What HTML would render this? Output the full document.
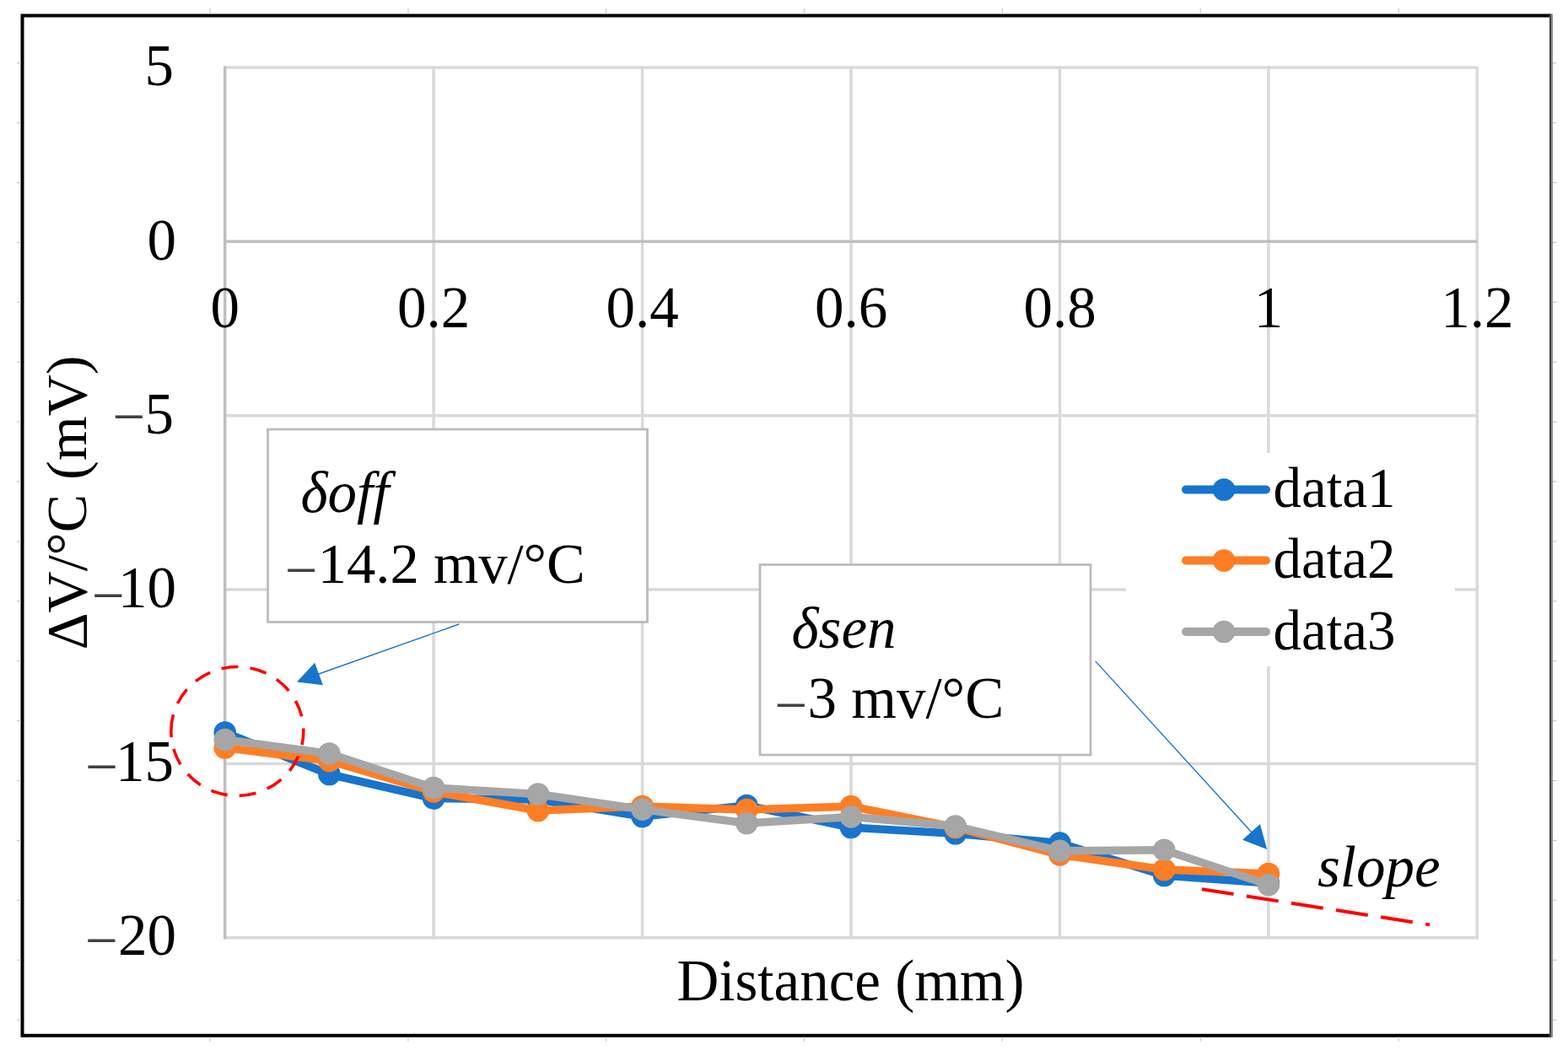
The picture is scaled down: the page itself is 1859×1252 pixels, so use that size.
<!DOCTYPE html>
<html><head><meta charset="utf-8">
<style>
html,body{margin:0;padding:0;background:#fff;}
body{width:1859px;height:1252px;overflow:hidden;position:relative;}
svg{position:absolute;left:0;top:0;display:block;}
text{font-family:"Liberation Serif","Times New Roman",serif;font-size:69px;fill:#000;}
.it{font-style:italic;}
</style></head><body>
<svg width="1859" height="1252" viewBox="0 0 1859 1252">
<rect x="0" y="0" width="1859" height="1252" fill="#fff"/>
<path d="M1839,18.6 H26.5 V1227.7 H1839" fill="none" stroke="#000" stroke-width="4"/>
<line x1="1838" y1="16.6" x2="1838" y2="1229.7" stroke="#444" stroke-width="2"/>
<line x1="1840" y1="16.6" x2="1840" y2="1229.7" stroke="#8a8a8a" stroke-width="2"/>
<line x1="20" y1="74.7" x2="24.5" y2="74.7" stroke="#c8c8c8" stroke-width="1.2"/><line x1="1841" y1="74.7" x2="1845.5" y2="74.7" stroke="#c8c8c8" stroke-width="1.2"/>
<line x1="20" y1="145.6" x2="24.5" y2="145.6" stroke="#c8c8c8" stroke-width="1.2"/><line x1="1841" y1="145.6" x2="1845.5" y2="145.6" stroke="#c8c8c8" stroke-width="1.2"/>
<line x1="20" y1="216.5" x2="24.5" y2="216.5" stroke="#c8c8c8" stroke-width="1.2"/><line x1="1841" y1="216.5" x2="1845.5" y2="216.5" stroke="#c8c8c8" stroke-width="1.2"/>
<line x1="20" y1="287.4" x2="24.5" y2="287.4" stroke="#c8c8c8" stroke-width="1.2"/><line x1="1841" y1="287.4" x2="1845.5" y2="287.4" stroke="#c8c8c8" stroke-width="1.2"/>
<line x1="20" y1="358.3" x2="24.5" y2="358.3" stroke="#c8c8c8" stroke-width="1.2"/><line x1="1841" y1="358.3" x2="1845.5" y2="358.3" stroke="#c8c8c8" stroke-width="1.2"/>
<line x1="20" y1="429.2" x2="24.5" y2="429.2" stroke="#c8c8c8" stroke-width="1.2"/><line x1="1841" y1="429.2" x2="1845.5" y2="429.2" stroke="#c8c8c8" stroke-width="1.2"/>
<line x1="20" y1="500.1" x2="24.5" y2="500.1" stroke="#c8c8c8" stroke-width="1.2"/><line x1="1841" y1="500.1" x2="1845.5" y2="500.1" stroke="#c8c8c8" stroke-width="1.2"/>
<line x1="20" y1="571.0" x2="24.5" y2="571.0" stroke="#c8c8c8" stroke-width="1.2"/><line x1="1841" y1="571.0" x2="1845.5" y2="571.0" stroke="#c8c8c8" stroke-width="1.2"/>
<line x1="20" y1="641.9" x2="24.5" y2="641.9" stroke="#c8c8c8" stroke-width="1.2"/><line x1="1841" y1="641.9" x2="1845.5" y2="641.9" stroke="#c8c8c8" stroke-width="1.2"/>
<line x1="20" y1="712.8" x2="24.5" y2="712.8" stroke="#c8c8c8" stroke-width="1.2"/><line x1="1841" y1="712.8" x2="1845.5" y2="712.8" stroke="#c8c8c8" stroke-width="1.2"/>
<line x1="20" y1="783.7" x2="24.5" y2="783.7" stroke="#c8c8c8" stroke-width="1.2"/><line x1="1841" y1="783.7" x2="1845.5" y2="783.7" stroke="#c8c8c8" stroke-width="1.2"/>
<line x1="20" y1="854.6" x2="24.5" y2="854.6" stroke="#c8c8c8" stroke-width="1.2"/><line x1="1841" y1="854.6" x2="1845.5" y2="854.6" stroke="#c8c8c8" stroke-width="1.2"/>
<line x1="20" y1="925.5" x2="24.5" y2="925.5" stroke="#c8c8c8" stroke-width="1.2"/><line x1="1841" y1="925.5" x2="1845.5" y2="925.5" stroke="#c8c8c8" stroke-width="1.2"/>
<line x1="20" y1="996.4" x2="24.5" y2="996.4" stroke="#c8c8c8" stroke-width="1.2"/><line x1="1841" y1="996.4" x2="1845.5" y2="996.4" stroke="#c8c8c8" stroke-width="1.2"/>
<line x1="20" y1="1067.3" x2="24.5" y2="1067.3" stroke="#c8c8c8" stroke-width="1.2"/><line x1="1841" y1="1067.3" x2="1845.5" y2="1067.3" stroke="#c8c8c8" stroke-width="1.2"/>
<line x1="20" y1="1138.2" x2="24.5" y2="1138.2" stroke="#c8c8c8" stroke-width="1.2"/><line x1="1841" y1="1138.2" x2="1845.5" y2="1138.2" stroke="#c8c8c8" stroke-width="1.2"/>
<line x1="20" y1="1209.1" x2="24.5" y2="1209.1" stroke="#c8c8c8" stroke-width="1.2"/><line x1="1841" y1="1209.1" x2="1845.5" y2="1209.1" stroke="#c8c8c8" stroke-width="1.2"/>
<line x1="249.0" y1="10" x2="249.0" y2="16.6" stroke="#c8c8c8" stroke-width="1.2"/><line x1="249.0" y1="1229.7" x2="249.0" y2="1234.5" stroke="#c8c8c8" stroke-width="1.2"/>
<line x1="483.9" y1="10" x2="483.9" y2="16.6" stroke="#c8c8c8" stroke-width="1.2"/><line x1="483.9" y1="1229.7" x2="483.9" y2="1234.5" stroke="#c8c8c8" stroke-width="1.2"/>
<line x1="718.7" y1="10" x2="718.7" y2="16.6" stroke="#c8c8c8" stroke-width="1.2"/><line x1="718.7" y1="1229.7" x2="718.7" y2="1234.5" stroke="#c8c8c8" stroke-width="1.2"/>
<line x1="953.5" y1="10" x2="953.5" y2="16.6" stroke="#c8c8c8" stroke-width="1.2"/><line x1="953.5" y1="1229.7" x2="953.5" y2="1234.5" stroke="#c8c8c8" stroke-width="1.2"/>
<line x1="1188.4" y1="10" x2="1188.4" y2="16.6" stroke="#c8c8c8" stroke-width="1.2"/><line x1="1188.4" y1="1229.7" x2="1188.4" y2="1234.5" stroke="#c8c8c8" stroke-width="1.2"/>
<line x1="1423.2" y1="10" x2="1423.2" y2="16.6" stroke="#c8c8c8" stroke-width="1.2"/><line x1="1423.2" y1="1229.7" x2="1423.2" y2="1234.5" stroke="#c8c8c8" stroke-width="1.2"/>
<line x1="1658.1" y1="10" x2="1658.1" y2="16.6" stroke="#c8c8c8" stroke-width="1.2"/><line x1="1658.1" y1="1229.7" x2="1658.1" y2="1234.5" stroke="#c8c8c8" stroke-width="1.2"/>

<line x1="266.7" y1="80.0" x2="1751.3" y2="80.0" stroke="#d9d9d9" stroke-width="3.5"/>
<line x1="266.7" y1="492.7" x2="1751.3" y2="492.7" stroke="#d9d9d9" stroke-width="3.5"/>
<line x1="266.7" y1="699.0" x2="1751.3" y2="699.0" stroke="#d9d9d9" stroke-width="3.5"/>
<line x1="266.7" y1="905.4" x2="1751.3" y2="905.4" stroke="#d9d9d9" stroke-width="3.5"/>
<line x1="266.7" y1="1111.7" x2="1751.3" y2="1111.7" stroke="#d9d9d9" stroke-width="3.5"/>
<line x1="514.1" y1="78.3" x2="514.1" y2="1113.4" stroke="#d9d9d9" stroke-width="3.5"/>
<line x1="761.6" y1="78.3" x2="761.6" y2="1113.4" stroke="#d9d9d9" stroke-width="3.5"/>
<line x1="1009.0" y1="78.3" x2="1009.0" y2="1113.4" stroke="#d9d9d9" stroke-width="3.5"/>
<line x1="1256.5" y1="78.3" x2="1256.5" y2="1113.4" stroke="#d9d9d9" stroke-width="3.5"/>
<line x1="1503.9" y1="78.3" x2="1503.9" y2="1113.4" stroke="#d9d9d9" stroke-width="3.5"/>
<line x1="1751.3" y1="78.3" x2="1751.3" y2="1113.4" stroke="#d9d9d9" stroke-width="3.5"/>
<line x1="266.7" y1="78.3" x2="266.7" y2="1113.4" stroke="#bfbfbf" stroke-width="3.5"/>
<line x1="266.7" y1="286.3" x2="1751.3" y2="286.3" stroke="#bfbfbf" stroke-width="3.5"/>

<text x="206" y="101.3" text-anchor="end">5</text>
<text x="209" y="307.6" text-anchor="end">0</text>
<text><tspan x="133.5" y="516.8" fill="#404040">−</tspan><tspan x="171.5" y="513.6">5</tspan></text>
<text><tspan x="109.1" y="729.1" fill="#404040">−</tspan><tspan x="140.0" y="719.6">10</tspan></text>
<text><tspan x="101.2" y="932.2" fill="#404040">−</tspan><tspan x="137.0" y="925.7">15</tspan></text>
<text><tspan x="101.0" y="1137.9" fill="#404040">−</tspan><tspan x="140.0" y="1131.7">20</tspan></text>

<text x="266.7" y="387.5" text-anchor="middle">0</text>
<text x="514.1" y="387.5" text-anchor="middle">0.2</text>
<text x="761.6" y="387.5" text-anchor="middle">0.4</text>
<text x="1009.0" y="387.5" text-anchor="middle">0.6</text>
<text x="1256.5" y="387.5" text-anchor="middle">0.8</text>
<text x="1503.9" y="387.5" text-anchor="middle">1</text>
<text x="1751.3" y="387.5" text-anchor="middle">1.2</text>

<text transform="translate(101.5,595.9) rotate(-90)" text-anchor="middle" style="font-size:68px">ΔV/°C (mV)</text>
<text x="802.5" y="1185.5">Distance (mm)</text>
<!-- annotation boxes -->
<rect x="317.5" y="509" width="450" height="228.5" fill="#fff" stroke="#bcbcbc" stroke-width="2.8"/>
<text class="it" x="356.5" y="607">δoff</text>
<text x="338" y="691.3" style="font-size:68.6px"><tspan dy="7.7" fill="#404040">−</tspan><tspan dy="-7.7">14.2 mv/°C</tspan></text>
<rect x="901" y="669.5" width="392" height="225.5" fill="#fff" stroke="#bcbcbc" stroke-width="2.8"/>
<text class="it" x="938.5" y="768">δsen</text>
<text x="918.6" y="851"><tspan dy="7.7" fill="#404040">−</tspan><tspan dy="-7.7">3 mv/°C</tspan></text>
<!-- legend -->
<rect x="1335" y="537" width="390" height="253" fill="#fff"/>
<line x1="1406" y1="580.5" x2="1501" y2="580.5" stroke="#1874cc" stroke-width="10" stroke-linecap="round"/>
<circle cx="1451" cy="580.5" r="13.3" fill="#1874cc"/>
<text x="1509.5" y="601" style="font-size:67px">data1</text>
<line x1="1406" y1="664.5" x2="1501" y2="664.5" stroke="#fd7e25" stroke-width="10" stroke-linecap="round"/>
<circle cx="1451" cy="664.5" r="13.3" fill="#fd7e25"/>
<text x="1509.5" y="685" style="font-size:67px">data2</text>
<line x1="1406" y1="749" x2="1501" y2="749" stroke="#a6a6a6" stroke-width="10" stroke-linecap="round"/>
<circle cx="1451" cy="749" r="13.3" fill="#a6a6a6"/>
<text x="1509.5" y="769.5" style="font-size:67px">data3</text>
<!-- series -->
<polyline points="266.7,868.5 390.4,918.0 514.1,946.5 637.9,948.0 761.6,968.0 885.3,955.0 1009.0,981.0 1132.7,988.3 1256.5,999.6 1380.2,1038.0 1503.9,1047.0" fill="none" stroke="#1874cc" stroke-width="9.5" stroke-linejoin="round" stroke-linecap="round"/>
<circle cx="266.7" cy="868.5" r="13.3" fill="#1874cc"/>
<circle cx="390.4" cy="918.0" r="13.3" fill="#1874cc"/>
<circle cx="514.1" cy="946.5" r="13.3" fill="#1874cc"/>
<circle cx="637.9" cy="948.0" r="13.3" fill="#1874cc"/>
<circle cx="761.6" cy="968.0" r="13.3" fill="#1874cc"/>
<circle cx="885.3" cy="955.0" r="13.3" fill="#1874cc"/>
<circle cx="1009.0" cy="981.0" r="13.3" fill="#1874cc"/>
<circle cx="1132.7" cy="988.3" r="13.3" fill="#1874cc"/>
<circle cx="1256.5" cy="999.6" r="13.3" fill="#1874cc"/>
<circle cx="1380.2" cy="1038.0" r="13.3" fill="#1874cc"/>
<circle cx="1503.9" cy="1047.0" r="13.3" fill="#1874cc"/>

<polyline points="266.7,886.5 390.4,902.0 514.1,938.5 637.9,961.0 761.6,956.0 885.3,960.0 1009.0,956.0 1132.7,981.0 1256.5,1013.4 1380.2,1031.0 1503.9,1036.0" fill="none" stroke="#fd7e25" stroke-width="9.5" stroke-linejoin="round" stroke-linecap="round"/>
<circle cx="266.7" cy="886.5" r="13.3" fill="#fd7e25"/>
<circle cx="390.4" cy="902.0" r="13.3" fill="#fd7e25"/>
<circle cx="514.1" cy="938.5" r="13.3" fill="#fd7e25"/>
<circle cx="637.9" cy="961.0" r="13.3" fill="#fd7e25"/>
<circle cx="761.6" cy="956.0" r="13.3" fill="#fd7e25"/>
<circle cx="885.3" cy="960.0" r="13.3" fill="#fd7e25"/>
<circle cx="1009.0" cy="956.0" r="13.3" fill="#fd7e25"/>
<circle cx="1132.7" cy="981.0" r="13.3" fill="#fd7e25"/>
<circle cx="1256.5" cy="1013.4" r="13.3" fill="#fd7e25"/>
<circle cx="1380.2" cy="1031.0" r="13.3" fill="#fd7e25"/>
<circle cx="1503.9" cy="1036.0" r="13.3" fill="#fd7e25"/>

<polyline points="266.7,877.0 390.4,893.5 514.1,934.0 637.9,941.5 761.6,959.7 885.3,976.0 1009.0,968.4 1132.7,979.5 1256.5,1008.9 1380.2,1007.7 1503.9,1049.0" fill="none" stroke="#a6a6a6" stroke-width="9.5" stroke-linejoin="round" stroke-linecap="round"/>
<circle cx="266.7" cy="877.0" r="13.3" fill="#a6a6a6"/>
<circle cx="390.4" cy="893.5" r="13.3" fill="#a6a6a6"/>
<circle cx="514.1" cy="934.0" r="13.3" fill="#a6a6a6"/>
<circle cx="637.9" cy="941.5" r="13.3" fill="#a6a6a6"/>
<circle cx="761.6" cy="959.7" r="13.3" fill="#a6a6a6"/>
<circle cx="885.3" cy="976.0" r="13.3" fill="#a6a6a6"/>
<circle cx="1009.0" cy="968.4" r="13.3" fill="#a6a6a6"/>
<circle cx="1132.7" cy="979.5" r="13.3" fill="#a6a6a6"/>
<circle cx="1256.5" cy="1008.9" r="13.3" fill="#a6a6a6"/>
<circle cx="1380.2" cy="1007.7" r="13.3" fill="#a6a6a6"/>
<circle cx="1503.9" cy="1049.0" r="13.3" fill="#a6a6a6"/>

<!-- red dashed circle -->
<path d="M202.8,867 A78.5,76.4 0 1,1 359.8,867 A78.5,76.4 0 1,1 202.8,867 Z" fill="none" stroke="#ff0000" stroke-width="3.6" stroke-dasharray="20 14.2"/>
<!-- slope line -->
<line x1="1424.8" y1="1054.2" x2="1695" y2="1096.4" stroke="#ff0000" stroke-width="4" stroke-dasharray="38.2 15.5"/>
<text class="it" x="1562" y="1051">slope</text>
<!-- arrows -->
<line x1="544.3" y1="740" x2="378" y2="799" stroke="#1874cc" stroke-width="1.4"/>
<polygon points="351.9,808.4 373.2,785.8 382.9,812.3" fill="#1874cc"/>
<line x1="1298.7" y1="783.9" x2="1485" y2="988" stroke="#1874cc" stroke-width="1.4"/>
<polygon points="1502.2,1007.1 1473.1,995.7 1493.9,977" fill="#1874cc"/>
</svg>
</body></html>
